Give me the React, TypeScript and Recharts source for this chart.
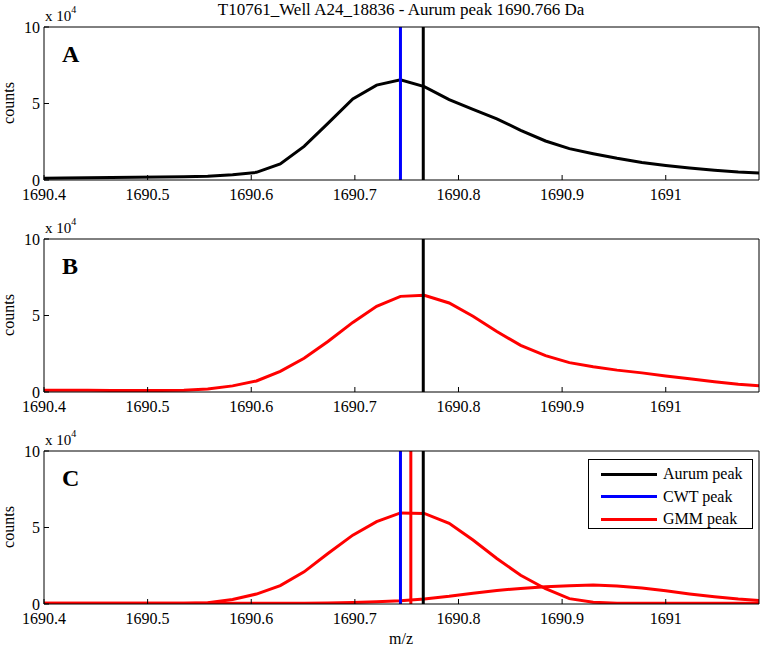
import React from "react";
import { LineChart, Line, XAxis, YAxis, ReferenceLine, Legend } from "recharts";

// m/z sample positions (shared by all three panels)
const mz = [
  1690.395, 1690.419, 1690.442, 1690.465, 1690.488, 1690.512, 1690.535, 1690.558,
  1690.582, 1690.605, 1690.628, 1690.651, 1690.674, 1690.698, 1690.721, 1690.744,
  1690.767, 1690.791, 1690.814, 1690.837, 1690.86, 1690.884, 1690.907, 1690.93,
  1690.953, 1690.977, 1691.0, 1691.023, 1691.047, 1691.07, 1691.093,
];

// counts, in units of 10^4
const rawSpectrum = [
  0.12, 0.13, 0.14, 0.16, 0.18, 0.2, 0.22, 0.24, 0.35, 0.5, 1.05, 2.2, 3.7, 5.3, 6.2, 6.55,
  6.1, 5.25, 4.62, 4.0, 3.25, 2.55, 2.05, 1.72, 1.42, 1.15, 0.95, 0.78, 0.63, 0.52, 0.45,
];
const smoothed = [
  0.12, 0.12, 0.11, 0.1, 0.1, 0.1, 0.12, 0.2, 0.4, 0.72, 1.35, 2.2, 3.3, 4.55, 5.6, 6.25,
  6.32, 5.82, 4.95, 3.95, 3.05, 2.38, 1.92, 1.65, 1.43, 1.25, 1.05, 0.86, 0.67, 0.5, 0.4,
];
const gmmMain = [
  0.05, 0.05, 0.05, 0.05, 0.05, 0.05, 0.05, 0.08, 0.3, 0.65, 1.2, 2.1, 3.3, 4.5, 5.38, 5.95,
  5.92, 5.27, 4.18, 2.97, 1.88, 1.0, 0.35, 0.12, 0.05, 0.05, 0.05, 0.05, 0.05, 0.05, 0.05,
];
const gmmSecond = [
  0.05, 0.05, 0.05, 0.05, 0.05, 0.05, 0.05, 0.05, 0.05, 0.05, 0.05, 0.05, 0.07, 0.1, 0.15, 0.22,
  0.33, 0.5, 0.7, 0.88, 1.02, 1.12, 1.2, 1.24, 1.18, 1.05, 0.86, 0.66, 0.48, 0.33, 0.22,
];

const xTicks = [1690.4, 1690.5, 1690.6, 1690.7, 1690.8, 1690.9, 1691];
const yTicks = [0, 5, 10];

const aurumPeak = 1690.766;
const cwtPeak = 1690.744;
const gmmPeak = 1690.754;

const legendNames = ["Aurum peak", "CWT peak", "GMM peak"];
const legendColors = ["#000000", "#0000ff", "#ff0000"];

const data = mz.map((x, i) => ({
  mz: x,
  raw: rawSpectrum[i],
  smooth: smoothed[i],
  g1: gmmMain[i],
  g2: gmmSecond[i],
}));

const FONT = "'Liberation Serif', 'Times New Roman', serif";
const tickStyle = { fontFamily: FONT, fontSize: 16, fill: "#000" };

function LegendBox() {
  return (
    <div
      style={{
        width: 163,
        height: 68,
        border: "1px solid #000",
        background: "#fff",
        position: "relative",
        fontFamily: FONT,
        fontSize: 16,
      }}
    >
      {legendNames.map((name, i) => (
        <div
          key={name}
          style={{ position: "absolute", left: 12, top: 4 + i * 22.5, height: 20, display: "flex", alignItems: "center" }}
        >
          <div style={{ width: 56, height: 3, background: legendColors[i] }} />
          <span style={{ marginLeft: 6 }}>{name}</span>
        </div>
      ))}
    </div>
  );
}

function Panel({
  top,
  height,
  letter,
  bottomLabel,
  children,
}: {
  top: number;
  height: number;
  letter: string;
  bottomLabel?: string;
  children: React.ReactNode;
}) {
  const plotBottom = height - (bottomLabel ? 44 : 32);
  return (
    <div style={{ position: "absolute", left: 0, top }}>
      <LineChart
        width={762}
        height={height}
        data={data}
        margin={{ top: 26, right: 2, bottom: height - plotBottom - 1, left: 43 }}
      >
        <XAxis
          dataKey="mz"
          type="number"
          domain={[1690.4, 1691.09]}
          allowDataOverflow
          ticks={xTicks}
          height={1}
          tickSize={-5}
          tickMargin={14}
          tick={tickStyle}
          stroke="#000"
          tickFormatter={(v: number) => String(Number(v.toFixed(1)))}
        />
        <XAxis
          xAxisId="top"
          orientation="top"
          dataKey="mz"
          type="number"
          domain={[1690.4, 1691.09]}
          allowDataOverflow
          ticks={xTicks}
          height={1}
          tickSize={-5}
          tick={false}
          stroke="#000"
        />
        <YAxis
          type="number"
          domain={[0, 10]}
          ticks={yTicks}
          width={1}
          tickSize={-5}
          tickMargin={9}
          tick={tickStyle}
          stroke="#000"
          allowDataOverflow
        />
        <YAxis
          yAxisId="right"
          orientation="right"
          type="number"
          domain={[0, 10]}
          ticks={yTicks}
          width={1}
          tickSize={-5}
          tick={false}
          stroke="#000"
        />
        {children}
        <text x={62} y={62} fontFamily={FONT} fontSize={24} fontWeight="bold">
          {letter}
        </text>
        <text x={45} y={21} fontFamily={FONT} fontSize={15}>
          x 10
          <tspan dy={-8} fontSize={10}>
            4
          </tspan>
        </text>
        <text
          x={14}
          y={27 + 76}
          fontFamily={FONT}
          fontSize={16}
          textAnchor="middle"
          transform={`rotate(-90 14 ${27 + 76})`}
        >
          counts
        </text>
        {bottomLabel && (
          <text x={401} y={plotBottom + 40} fontFamily={FONT} fontSize={16} textAnchor="middle">
            {bottomLabel}
          </text>
        )}
      </LineChart>
    </div>
  );
}

export default function App() {
  return (
    <div style={{ position: "absolute", left: 0, top: 0, width: 762, height: 648, background: "#fff", overflow: "hidden" }}>
      <div
        style={{
          position: "absolute",
          left: 0,
          width: 802,
          top: 0,
          textAlign: "center",
          fontFamily: FONT,
          fontSize: 17,
          lineHeight: "20px",
        }}
      >
        T10761_Well A24_18836 - Aurum peak 1690.766 Da
      </div>

      <Panel top={0} height={212} letter="A">
        <Line dataKey="raw" stroke="#000" strokeWidth={3} dot={false} isAnimationActive={false} />
        <ReferenceLine x={cwtPeak} stroke="#0000ff" strokeWidth={3} />
        <ReferenceLine x={aurumPeak} stroke="#000" strokeWidth={3} />
      </Panel>

      <Panel top={212} height={212} letter="B">
        <Line dataKey="smooth" stroke="#ff0000" strokeWidth={3} dot={false} isAnimationActive={false} />
        <ReferenceLine x={aurumPeak} stroke="#000" strokeWidth={3} />
      </Panel>

      <Panel top={424} height={224} letter="C" bottomLabel="m/z">
        <Line dataKey="g1" stroke="#ff0000" strokeWidth={3} dot={false} isAnimationActive={false} />
        <Line dataKey="g2" stroke="#ff0000" strokeWidth={3} dot={false} isAnimationActive={false} />
        <ReferenceLine x={cwtPeak} stroke="#0000ff" strokeWidth={3} />
        <ReferenceLine x={gmmPeak} stroke="#ff0000" strokeWidth={3} />
        <ReferenceLine x={aurumPeak} stroke="#000" strokeWidth={3} />
        <Legend
          layout="horizontal"
          verticalAlign="middle"
          align="center"
          content={() => <LegendBox />}
          wrapperStyle={{ left: 588, top: 35, width: 165, height: 70 }}
        />
      </Panel>
    </div>
  );
}
